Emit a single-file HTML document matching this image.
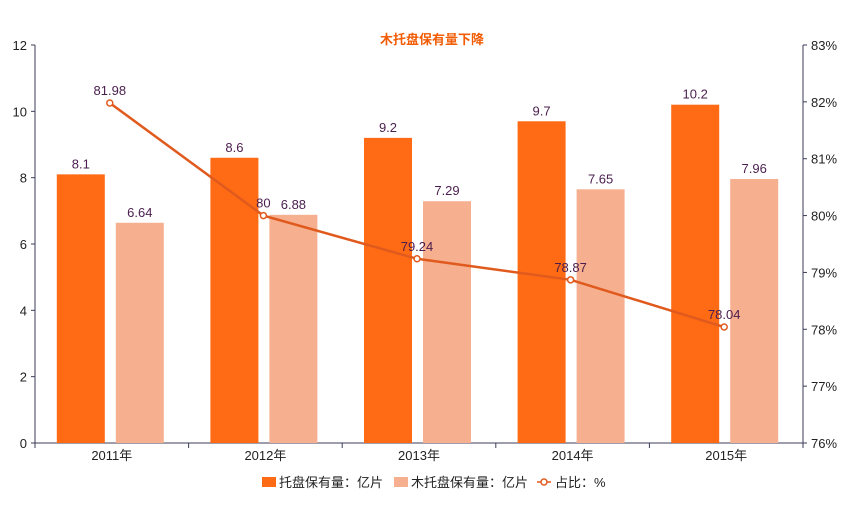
<!DOCTYPE html>
<html><head><meta charset="utf-8"><style>
body{margin:0;background:#fff;}
svg text{font-family:"Liberation Sans","Noto Sans CJK SC",sans-serif;}
</style></head><body>
<svg id="chart" width="864" height="504" xmlns="http://www.w3.org/2000/svg">
<text x="432" y="44" text-anchor="middle" font-size="13" font-weight="bold" fill="#f25c05">木托盘保有量下降</text>
<g id="g"></g>
</svg>
<script>
const categories=["2011年","2012年","2013年","2014年","2015年"];
const palletValues=[8.1,8.6,9.2,9.7,10.2];
const woodValues=[6.64,6.88,7.29,7.65,7.96];
const ratioValues=[81.98,80,79.24,78.87,78.04];
const leftTicks=[0,2,4,6,8,10,12];
const rightTicks=[76,77,78,79,80,81,82,83];
const L=35,R=803,T=45,B=443;
const yL=v=>B-(v-0)/(12-0)*(B-T);
const yR=v=>B-(v-76)/(83-76)*(B-T);
const band=(R-L)/categories.length;
const xC=i=>L+band*(i+0.5);
const g=document.getElementById('g');
const NS="http://www.w3.org/2000/svg";
function mk(t,a,txt){const e=document.createElementNS(NS,t);for(const k in a)e.setAttribute(k,a[k]);if(txt!==undefined)e.textContent=txt;g.appendChild(e);return e;}
const ax="#3b3b5a",lbl="#4a1e4e";
// axes
let e=mk('line',{x1:L,y1:T,x2:L,y2:B,stroke:ax});

e=mk('line',{x1:R,y1:T,x2:R,y2:B,stroke:ax});

e=mk('line',{x1:L,y1:B,x2:R,y2:B,stroke:ax});

leftTicks.forEach(v=>{
  mk('line',{x1:L-4,y1:yL(v),x2:L,y2:yL(v),stroke:ax});
  e=mk('text',{x:L-8,y:yL(v)+5,'text-anchor':'end','font-size':13,fill:'#222'},v);
  
});
rightTicks.forEach(v=>{
  mk('line',{x1:R,y1:yR(v),x2:R+4,y2:yR(v),stroke:ax});
  e=mk('text',{x:R+8,y:yR(v)+5,'font-size':13,fill:'#222'},v+'%');
  
});
for(let i=0;i<=categories.length;i++){mk('line',{x1:L+band*i,y1:B,x2:L+band*i,y2:B+5,stroke:ax});}
categories.forEach((c,i)=>{
  e=mk('text',{x:xC(i),y:B+17,'text-anchor':'middle','font-size':13,fill:'#222'},c);
  
  const x=xC(i);
  e=mk('rect',{x:x-55,y:yL(palletValues[i]),width:48,height:B-yL(palletValues[i]),fill:'#ff6a14'});
  
  e=mk('text',{x:x-31,y:yL(palletValues[i])-6,'text-anchor':'middle','font-size':13,fill:lbl},palletValues[i]);
  
  e=mk('rect',{x:x+4,y:yL(woodValues[i]),width:48,height:B-yL(woodValues[i]),fill:'#f7b08f'});
  
  e=mk('text',{x:x+28,y:yL(woodValues[i])-6,'text-anchor':'middle','font-size':13,fill:lbl},woodValues[i]);
  
});
const pts=ratioValues.map((v,i)=>(xC(i)-2)+','+yR(v)).join(' ');
e=mk('polyline',{points:pts,fill:'none',stroke:'#e05a1e','stroke-width':2.5});

ratioValues.forEach((v,i)=>{
  e=mk('circle',{cx:xC(i)-2,cy:yR(v),r:3,fill:'#fff',stroke:'#e05a1e','stroke-width':1.5});
  
  e=mk('text',{x:xC(i)-2,y:yR(v)-8,'text-anchor':'middle','font-size':13,fill:lbl},v);
  
});
// legend
e=mk('rect',{x:262,y:477,width:14,height:10,fill:'#ff6a14'});

e=mk('text',{x:279,y:487,'font-size':13,fill:'#222'},'托盘保有量：亿片');

e=mk('rect',{x:394,y:477,width:14,height:10,fill:'#f7b08f'});

e=mk('text',{x:411,y:487,'font-size':13,fill:'#222'},'木托盘保有量：亿片');

mk('line',{x1:537,y1:482,x2:551,y2:482,stroke:'#e05a1e','stroke-width':1.5});
e=mk('circle',{cx:544,cy:482,r:3,fill:'#fff',stroke:'#e05a1e','stroke-width':1.5});

e=mk('text',{x:555,y:487,'font-size':13,fill:'#222'},'占比：%');

</script>
</body></html>
